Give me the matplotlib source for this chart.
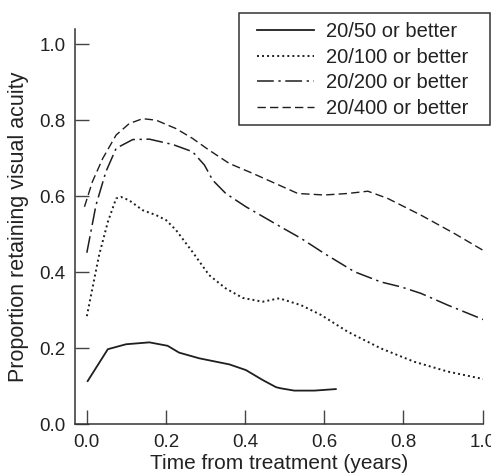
import matplotlib
matplotlib.use("Agg")
import matplotlib.pyplot as plt
from matplotlib.patches import Rectangle

plt.rcParams['font.family'] = ['Liberation Sans', 'DejaVu Sans']

# 20/50 or better
x50 = [0.002, 0.053, 0.099, 0.158, 0.204, 0.233, 0.284, 0.36, 0.402, 0.444, 0.478, 0.49, 0.524, 0.575, 0.629]
y50 = [0.113, 0.197, 0.21, 0.215, 0.206, 0.188, 0.173, 0.157, 0.142, 0.116, 0.097, 0.094, 0.088, 0.088, 0.092]

# 20/100 or better
x100 = [0.0, 0.014, 0.031, 0.053, 0.074, 0.086, 0.107, 0.141, 0.175, 0.2, 0.225, 0.267, 0.309, 0.351,
        0.394, 0.444, 0.486, 0.541, 0.592, 0.659, 0.743, 0.827, 0.912, 1.004]
y100 = [0.284, 0.357, 0.445, 0.532, 0.594, 0.598, 0.589, 0.563, 0.55, 0.537, 0.511, 0.453, 0.392, 0.357,
        0.332, 0.322, 0.331, 0.313, 0.287, 0.243, 0.199, 0.164, 0.138, 0.118]

# 20/200 or better
x200 = [0.0, 0.023, 0.048, 0.074, 0.116, 0.158, 0.217, 0.267, 0.297, 0.318, 0.351, 0.402, 0.49,
        0.541, 0.6, 0.676, 0.743, 0.794, 0.844, 0.912, 1.004]
y200 = [0.451, 0.576, 0.664, 0.726, 0.749, 0.75, 0.736, 0.717, 0.682, 0.642, 0.607, 0.572, 0.519,
        0.489, 0.449, 0.401, 0.374, 0.361, 0.344, 0.313, 0.274]

# 20/400 or better
x400 = [-0.006, 0.014, 0.04, 0.074, 0.107, 0.141, 0.175, 0.225, 0.267, 0.309, 0.36, 0.419, 0.49,
        0.533, 0.6, 0.659, 0.71, 0.76, 0.844, 0.928, 1.0]
y400 = [0.572, 0.638, 0.699, 0.761, 0.791, 0.804, 0.8, 0.778, 0.752, 0.721, 0.686, 0.66, 0.627,
        0.607, 0.603, 0.607, 0.613, 0.594, 0.55, 0.502, 0.458]

labels = ["20/50 or better", "20/100 or better", "20/200 or better", "20/400 or better"]
xticks = [0.0, 0.2, 0.4, 0.6, 0.8, 1.0]
yticks = [0.0, 0.2, 0.4, 0.6, 0.8, 1.0]

W, H = 491, 476
fig = plt.figure(figsize=(W / 100, H / 100), dpi=100)
ax = fig.add_axes([0.1527, 0.1092, 0.983 - 0.1527, 0.939 - 0.1092])

c = '#1e1e1e'
ax.plot(x50, y50, color=c, lw=1.3, linestyle='-', label=labels[0])
ax.plot(x100, y100, color=c, lw=1.4, linestyle=(0, (1.0, 1.6)), label=labels[1])
ax.plot(x200, y200, color=c, lw=1.1, linestyle=(0, (11, 3, 1.5, 3)), label=labels[2])
ax.plot(x400, y400, color=c, lw=1.0, linestyle=(0, (6, 3)), label=labels[3])

ax.set_xlim(-0.03, 1.0)
ax.set_ylim(0, 1.04)
ax.set_xticks(xticks)
ax.set_yticks(yticks)
ax.set_xticklabels([f"{t:.1f}" for t in xticks])
ax.set_yticklabels([f"{t:.1f}" for t in yticks])
ax.tick_params(direction='in', length=10, width=1.0, color='#444444', labelsize=13.5,
               labelcolor='#222222', pad=7)
for s in ['top', 'right']:
    ax.spines[s].set_visible(False)
for s in ['left', 'bottom']:
    ax.spines[s].set_color('#333333')
    ax.spines[s].set_linewidth(1.1)

ax.set_xlabel("Time from treatment (years)", fontsize=15, color='#222222', labelpad=2)
ax.set_ylabel("Proportion retaining visual acuity", fontsize=15.5, color='#222222', labelpad=7)

leg = ax.legend(loc='upper left', bbox_to_anchor=(257 / W, 1 - 22 / H), bbox_transform=fig.transFigure,
                fontsize=14.5, frameon=False, handlelength=2.85, handletextpad=0.6,
                labelspacing=0.33, borderpad=0, borderaxespad=0)
for t in leg.get_texts():
    t.set_color('#222222')

# legend frame
fig.patches.append(Rectangle((239 / W, 1 - 125 / H), (490 - 239) / W, (125 - 13) / H,
                             transform=fig.transFigure, fill=False, edgecolor='#333333',
                             linewidth=1.1, zorder=5))

fig.savefig("out.png", dpi=100)
